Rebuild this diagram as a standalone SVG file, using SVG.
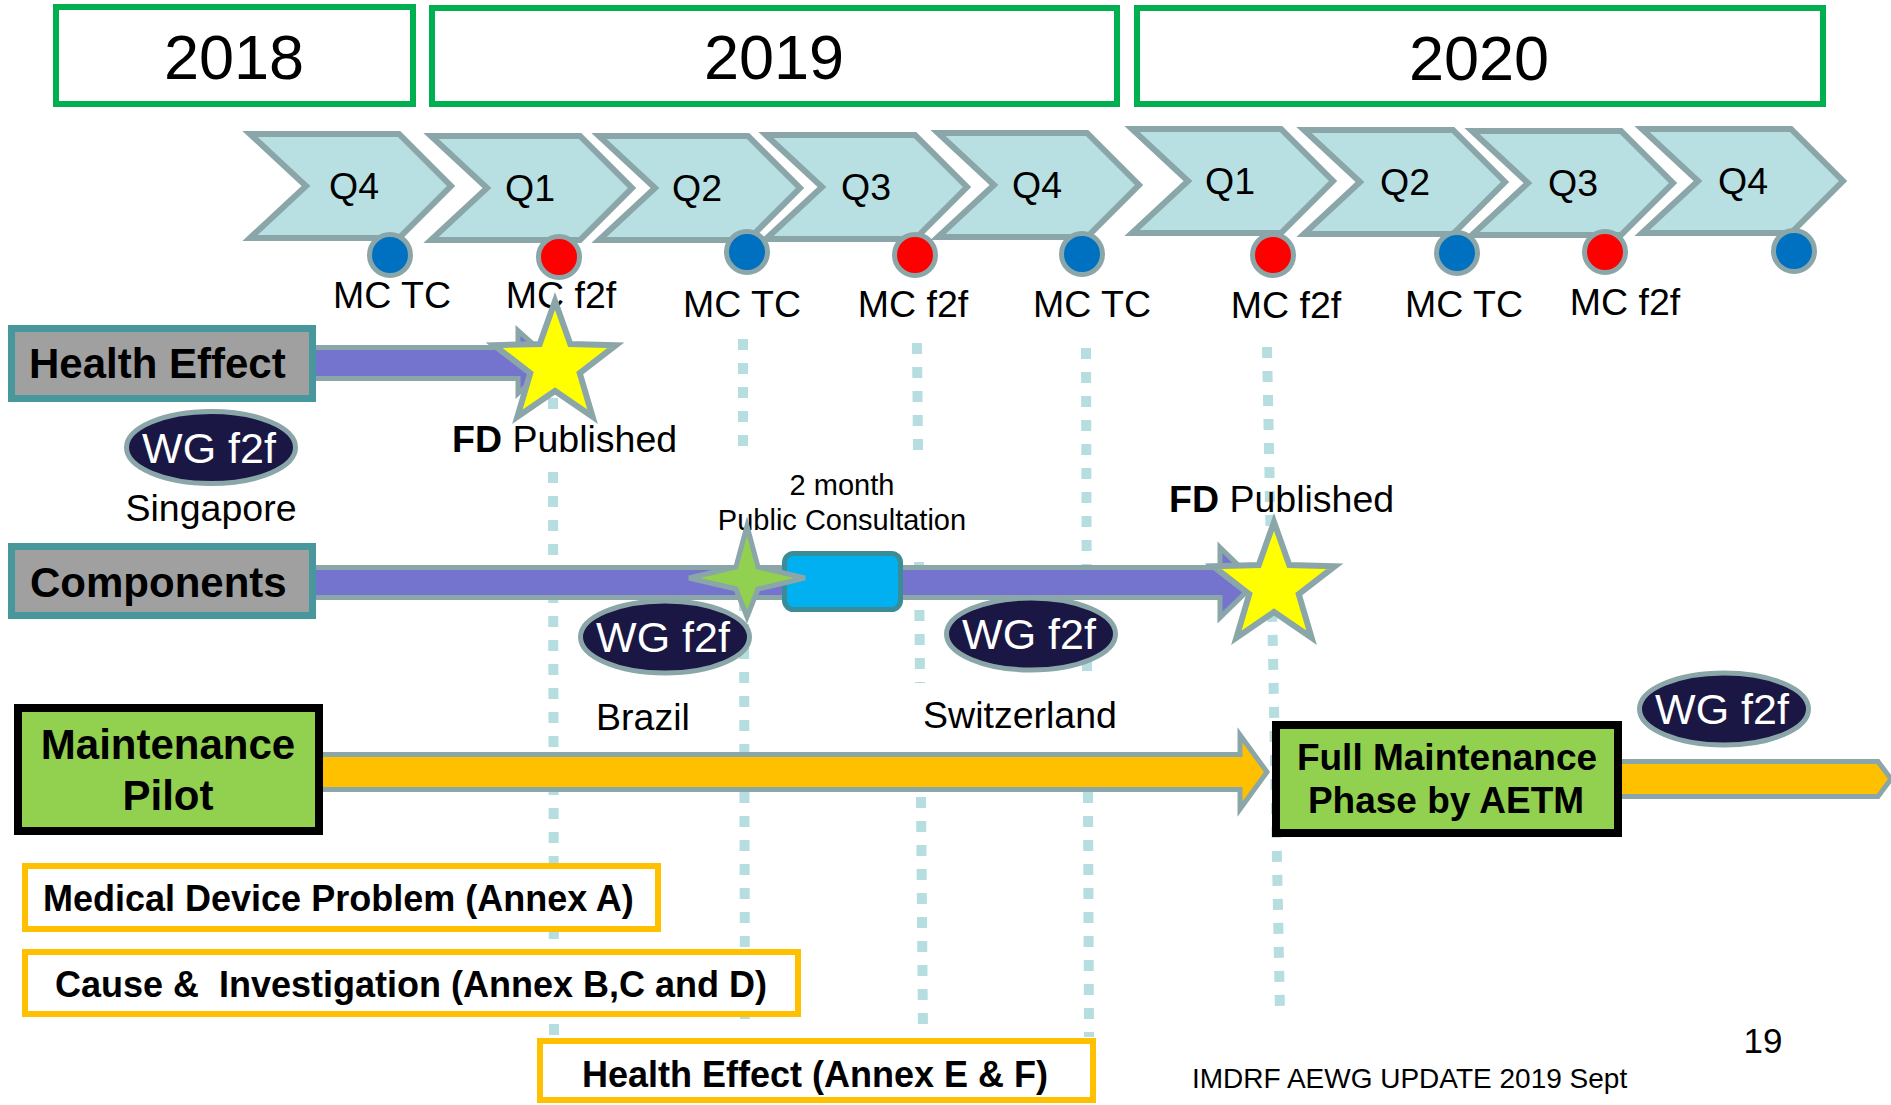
<svg xmlns="http://www.w3.org/2000/svg" xmlns:xlink="http://www.w3.org/1999/xlink" width="1891" height="1105" viewBox="0 0 1891 1105">
<style>
text{font-family:"Liberation Sans",Arial,sans-serif;fill:#000}
.year{fill:#fff;stroke:#00B050;stroke-width:6}
.yt{font-size:63px;text-anchor:middle}
.chev{fill:#B8E0E3;stroke:#8AA6A8;stroke-width:6;stroke-linejoin:miter}
.qt{font-size:37.5px;text-anchor:middle}
.dot{stroke:#8AA6A8;stroke-width:5}
.blue{fill:#0070C0}
.red{fill:#FF0000}
.mc{font-size:37.5px;text-anchor:middle}
.dash{stroke:#B6DDE0;stroke-width:10;stroke-dasharray:11 13;fill:none}
.arrP{fill:#7474CF;stroke:#8AA6A8;stroke-width:5}
.arrY{fill:#FFC000;stroke:#8AA6A8;stroke-width:5}
.lab{fill:#A0A0A0;stroke:#47979C;stroke-width:7}
.lt{font-size:42px;font-weight:bold}
.grn{fill:#92D050;stroke:#000;stroke-width:8}
.wg{fill:#1A1744;stroke:#8AA6A8;stroke-width:5}
.wgt{font-size:43px;fill:#fff;text-anchor:middle}
.city{font-size:37.5px;text-anchor:middle}
.annex{fill:#fff;stroke:#FFC000;stroke-width:6}
.at{font-size:36px;font-weight:bold}
.star{fill:#FFFF00;stroke:#8AA6A8;stroke-width:6}
.fd{font-size:37.5px}
</style>
<defs>
<path id="chev" d="M5,3 L154,3 L206,55 L154,107 L5,107 L61,55 Z"/>
<path id="star5" d="M0,-64 L15.28,-21.03 L60.87,-19.78 L24.73,8.03 L37.62,51.78 L0,26 L-37.62,51.78 L-24.73,8.03 L-60.87,-19.78 L-15.28,-21.03 Z"/>
</defs>
<rect width="1891" height="1105" fill="#fff"/>

<g id="year-2018"><rect class="year" x="56" y="7" width="357" height="97"/><text class="yt" x="234" y="79">2018</text></g>
<g id="year-2019"><rect class="year" x="432" y="8" width="685" height="96"/><text class="yt" x="774" y="79">2019</text></g>
<g id="year-2020"><rect class="year" x="1137" y="8" width="686" height="96"/><text class="yt" x="1479" y="80">2020</text></g>

<g id="q4-2018"><use href="#chev" class="chev" x="245" y="131"/><text class="qt" x="354" y="199">Q4</text></g>
<g id="q1-2019"><use href="#chev" class="chev" x="426" y="133"/><text class="qt" x="530" y="201">Q1</text></g>
<g id="q2-2019"><use href="#chev" class="chev" x="594" y="133"/><text class="qt" x="697" y="201">Q2</text></g>
<g id="q3-2019"><use href="#chev" class="chev" x="761" y="132"/><text class="qt" x="866" y="200">Q3</text></g>
<g id="q4-2019"><use href="#chev" class="chev" x="933" y="130"/><text class="qt" x="1037" y="198">Q4</text></g>
<g id="q1-2020"><use href="#chev" class="chev" x="1127" y="126"/><text class="qt" x="1230" y="194">Q1</text></g>
<g id="q2-2020"><use href="#chev" class="chev" x="1299" y="127"/><text class="qt" x="1405" y="195">Q2</text></g>
<g id="q3-2020"><use href="#chev" class="chev" x="1467" y="128"/><text class="qt" x="1573" y="196">Q3</text></g>
<g id="q4-2020"><use href="#chev" class="chev" x="1637" y="126"/><text class="qt" x="1743" y="194">Q4</text></g>

<g id="mc1"><circle class="dot blue" cx="390" cy="255" r="20.5"/><text class="mc" x="392" y="308">MC TC</text></g>
<g id="mc2"><circle class="dot red" cx="559" cy="257" r="20.5"/><text class="mc" x="561" y="308">MC f2f</text></g>
<g id="mc3"><circle class="dot blue" cx="747" cy="252" r="20.5"/><text class="mc" x="742" y="317">MC TC</text></g>
<g id="mc4"><circle class="dot red" cx="915" cy="255" r="20.5"/><text class="mc" x="913" y="317">MC f2f</text></g>
<g id="mc5"><circle class="dot blue" cx="1082" cy="254" r="20.5"/><text class="mc" x="1092" y="317">MC TC</text></g>
<g id="mc6"><circle class="dot red" cx="1273" cy="255" r="20.5"/><text class="mc" x="1286" y="318">MC f2f</text></g>
<g id="mc7"><circle class="dot blue" cx="1457" cy="253" r="20.5"/><text class="mc" x="1464" y="317">MC TC</text></g>
<g id="mc8"><circle class="dot red" cx="1605" cy="252" r="20.5"/><text class="mc" x="1625" y="315">MC f2f</text></g>
<g id="mc9"><circle class="dot blue" cx="1794" cy="251" r="20.5"/></g>

<g id="connectors">
<line class="dash" x1="553" y1="398" x2="553" y2="410"/>
<line class="dash" x1="553" y1="472" x2="554" y2="1037"/>
<line class="dash" x1="743" y1="339" x2="743" y2="447"/>
<line class="dash" x1="744" y1="600" x2="745" y2="1030"/>
<line class="dash" x1="917" y1="343" x2="918" y2="452"/>
<line class="dash" x1="919" y1="562" x2="920" y2="683"/>
<line class="dash" x1="921" y1="797" x2="923" y2="1035"/>
<line class="dash" x1="1086" y1="348" x2="1087" y2="680"/>
<line class="dash" x1="1088" y1="792" x2="1089" y2="1037"/>
<line class="dash" x1="1267" y1="347" x2="1280" y2="1013"/>
<polygon class="arrP" points="312,347.5 518,347.5 518,330.5 553,362 518,393.5 518,378.5 312,378.5"/>
<polygon class="arrP" points="312,567.5 1220,567.5 1220,547.5 1256,582.5 1220,617.5 1220,597.5 312,597.5"/>
<polygon class="arrY" points="320,754.5 1240,754.5 1240,735 1267,772 1240,809 1240,789.5 320,789.5"/>
<polygon class="arrY" points="1618,761.5 1878,761.5 1891,779 1878,796.5 1618,796.5"/>
</g>

<g id="health-effect"><rect class="lab" x="11.5" y="328.5" width="301" height="70"/><text class="lt" x="29" y="378">Health Effect</text></g>
<g id="components"><rect class="lab" x="11.5" y="546.5" width="301" height="69"/><text class="lt" x="30" y="597">Components</text></g>
<g id="maintenance-pilot"><rect class="grn" x="18" y="708" width="301" height="123"/><text class="lt" x="168" y="759" text-anchor="middle">Maintenance</text><text class="lt" x="168" y="810" text-anchor="middle">Pilot</text></g>
<g id="full-maintenance"><rect class="grn" x="1276" y="725" width="342" height="108"/><text class="lt" x="1447" y="770" text-anchor="middle" style="font-size:37px">Full Maintenance</text><text class="lt" x="1446" y="813" text-anchor="middle" style="font-size:37px">Phase by AETM</text></g>

<g id="wg-singapore"><ellipse class="wg" cx="211" cy="447.5" rx="84.5" ry="36"/><text class="wgt" x="209" y="463">WG f2f</text><text class="city" x="211" y="521">Singapore</text></g>
<g id="wg-brazil"><ellipse class="wg" cx="665" cy="637" rx="84.5" ry="36"/><text class="wgt" x="663" y="652">WG f2f</text><text class="city" x="643" y="730">Brazil</text></g>
<g id="wg-switzerland"><ellipse class="wg" cx="1031" cy="634" rx="84.5" ry="36"/><text class="wgt" x="1029" y="649">WG f2f</text><text class="city" x="1020" y="728">Switzerland</text></g>
<g id="wg-2020"><ellipse class="wg" cx="1724" cy="709" rx="84.5" ry="36"/><text class="wgt" x="1722" y="724">WG f2f</text></g>

<g id="consultation">
<text x="842" y="495" text-anchor="middle" style="font-size:29px">2 month</text>
<text x="842" y="530" text-anchor="middle" style="font-size:29px">Public Consultation</text>
<rect x="784.5" y="553.5" width="116" height="56" rx="9" fill="#00B0F0" stroke="#3A8C96" stroke-width="5"/>
</g>
<g id="draft-star"><path d="M747,526 L758,567 L805,578 L758,589 L747,617 L736,589 L689,578 L736,567 Z" fill="#92D050" stroke="#8AA6A8" stroke-width="5"/></g>

<g id="fd-published-1"><use href="#star5" class="star" transform="translate(555,365)"/><text class="fd" x="452" y="452"><tspan font-weight="bold">FD</tspan> Published</text></g>
<g id="fd-published-2"><use href="#star5" class="star" transform="translate(1274,586)"/><text class="fd" x="1169" y="512"><tspan font-weight="bold">FD</tspan> Published</text></g>

<g id="annex-a"><rect class="annex" x="25" y="866" width="633" height="63"/><text class="at" x="43" y="911">Medical Device Problem (Annex A)</text></g>
<g id="annex-b"><rect class="annex" x="25" y="952" width="773" height="62"/><text class="at" x="55" y="997" xml:space="preserve">Cause &amp;  Investigation (Annex B,C and D)</text></g>
<g id="annex-c"><rect class="annex" x="540" y="1041" width="553" height="59"/><text class="at" x="815" y="1087" text-anchor="middle">Health Effect (Annex E &amp; F)</text></g>

<g id="footer"><text x="1763" y="1053" text-anchor="middle" style="font-size:35px">19</text><text x="1192" y="1088" style="font-size:28px">IMDRF AEWG UPDATE 2019 Sept</text></g>
</svg>
